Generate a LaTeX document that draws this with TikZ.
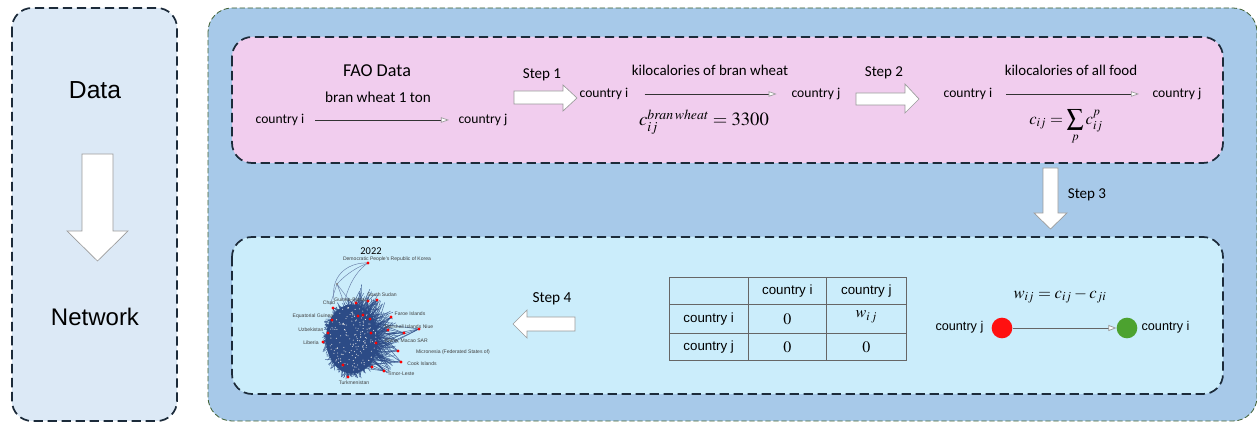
\documentclass[tikz,border=0pt]{standalone}
\usepackage{mathptmx}
\usepackage{fontspec}
\newfontfamily\calfont{Carlito}
\newfontfamily\arialfont{Liberation Sans}
\usetikzlibrary{arrows.meta}
\definecolor{leftfill}{HTML}{DCE9F6}
\definecolor{mainfill}{HTML}{A7C9E9}
\definecolor{pinkfill}{HTML}{F1CDEE}
\definecolor{cyanfill}{HTML}{CBEDFB}
\definecolor{dashcol}{HTML}{1C2B3A}
\definecolor{greendash}{HTML}{3E5E30}
\definecolor{netblue}{HTML}{2C4B86}
\definecolor{arrowgray}{HTML}{9A9A9A}
\definecolor{nodered}{HTML}{FF1010}
\definecolor{nodegreen}{HTML}{4CA22F}
\tikzset{
  panel/.style={draw=dashcol, line width=1.3pt, dash pattern=on 7pt off 3.5pt, rounded corners=15pt},
  mainpanel/.style={draw=greendash, line width=0.6pt, dash pattern=on 4pt off 2pt, rounded corners=18pt, fill=mainfill},
  blockarrow/.style={draw=arrowgray, line width=0.5pt, fill=white},
  cal/.style={font=\calfont\fontsize{#1}{#1}\selectfont, inner sep=1pt},
  ari/.style={font=\arialfont\fontsize{#1}{#1}\selectfont, inner sep=1pt},
  conn/.style={draw=black!80, line width=0.5pt, -{Triangle[length=6pt,width=4pt,fill=white,color=arrowgray]}},
  cell/.style={draw=black!60, line width=0.5pt, minimum width=59pt, minimum height=#1, inner sep=0pt, anchor=north west},
  netlab/.style={font=\arialfont\fontsize{3.8}{4}\selectfont, text=black!75, inner sep=0pt},
  rdot/.style={fill=red, draw=none, circle, inner sep=0pt, minimum size=2.4pt},
}
\begin{document}
\begin{tikzpicture}[x=0.75pt,y=-0.75pt]
\useasboundingbox (0,0) rectangle (1257,423);
% left panel
\draw[panel, fill=leftfill] (12,8) rectangle (177,421);
\node[ari=18.5] (data) at (95,90) {Data};
\node[ari=18] (network) at (95,317) {Network};
\draw[blockarrow] (82,154) -- (113,154) -- (113,231) -- (128,231) -- (97.5,261) -- (67,231) -- (82,231) -- cycle;
% main panel
\draw[mainpanel] (208,8) rectangle (1257,421);
\draw[panel, fill=pinkfill] (232,37) rectangle (1223,163);
\draw[panel, fill=cyanfill] (232,237) rectangle (1223,394);
% pink box content
\node[cal=13.6] (fao) at (377,71) {FAO Data};
\node[cal=11.4] (bran) at (378,97) {bran wheat 1 ton};
\node[cal=10.2] (ci1) at (280,120) {country i};
\node[cal=10.2] (cj1) at (483,120) {country j};
\draw[conn, shorten <=7pt, shorten >=6pt] (ci1) -- (cj1);
\node[cal=11.3] (s1) at (542,75) {Step 1};
\draw[blockarrow] (514,91) -- (563,91) -- (563,85) -- (577,98) -- (563,111) -- (563,104) -- (514,104) -- cycle;
\node[cal=11.2] (kbw) at (710,70) {kilocalories of bran wheat};
\node[cal=10.2] (ci2) at (604,94) {country i};
\node[cal=10.2] (cj2) at (816,94) {country j};
\draw[conn, shorten <=11pt, shorten >=10pt] (ci2) -- (cj2);
\node[font=\fontsize{14}{14}\selectfont, inner sep=0pt] (f1) at (704,122) {$c_{ij}^{\mathit{bran\,wheat}} = 3300$};
\node[cal=11.3] (s2) at (884,73) {Step 2};
\draw[blockarrow] (856,93) -- (905,93) -- (905,84) -- (919,99) -- (905,113) -- (905,105) -- (856,105) -- cycle;
\node[cal=11.2] (kaf) at (1071,70) {kilocalories of all food};
\node[cal=10.2] (ci3) at (968,94) {country i};
\node[cal=10.2] (cj3) at (1177,94) {country j};
\draw[conn, shorten <=9pt, shorten >=9pt] (ci3) -- (cj3);
\node[font=\fontsize{12.5}{12.5}\selectfont, inner sep=0pt] (f2) at (1066,127) {$\displaystyle c_{ij} = \sum_{p} c_{ij}^{p}$};
% step 3
\draw[blockarrow] (1043,168) -- (1058,168) -- (1058,213) -- (1067,213) -- (1050.5,229) -- (1034,213) -- (1043,213) -- cycle;
\node[cal=11.3] (s3) at (1087,195) {Step 3};
% table
\node[cell=20.25pt] (t11) at (669,277) {};
\node[cell=20.25pt, minimum width=58.5pt] (t12) at (748,277) {};
\node[cell=20.25pt, minimum width=60pt] (t13) at (826,277) {};
\node[cell=21.75pt] (t21) at (669,304) {};
\node[cell=21.75pt, minimum width=58.5pt] (t22) at (748,304) {};
\node[cell=21.75pt, minimum width=60pt] (t23) at (826,304) {};
\node[cell=20.25pt] (t31) at (669,333) {};
\node[cell=20.25pt, minimum width=58.5pt] (t32) at (748,333) {};
\node[cell=20.25pt, minimum width=60pt] (t33) at (826,333) {};
\node[ari=10] (h2) at (t12.center) {country i};
\node[ari=10] (h3) at (t13.center) {country j};
\node[ari=10] (r2) at (t21.center) {country i};
\node[ari=10] (r3) at (t31.center) {country j};
\node[font=\fontsize{12}{12}\selectfont] (v22) at (t22.center) {$0$};
\node[font=\fontsize{12}{12}\selectfont] (v23) at ([yshift=1.5pt]t23.center) {$w_{i\,j}$};
\node[font=\fontsize{12}{12}\selectfont] (v32) at (t32.center) {$0$};
\node[font=\fontsize{12}{12}\selectfont] (v33) at (t33.center) {$0$};
% w formula and two nodes
\node[font=\fontsize{12.5}{12.5}\selectfont] (wf) at (1060,296) {$w_{ij} = c_{ij} - c_{ji}$};
\node[circle, fill=nodered, minimum size=15.5pt, inner sep=0pt] (rn) at (1002,328) {};
\node[circle, fill=nodegreen, minimum size=15.5pt, inner sep=0pt] (gn) at (1127,328) {};
\node[ari=9.5, anchor=east] (lj) at (985,327) {country j};
\node[ari=9.5, anchor=west] (li) at (1140,327) {country i};
\draw[draw=black!60, line width=0.6pt, -{Triangle[length=6pt,width=4.5pt,fill=white,color=arrowgray]}] (rn) -- (gn);
% step 4
\node[cal=11.5] (s4) at (552,299) {Step 4};
\draw[blockarrow] (575,317) -- (527,317) -- (527,310) -- (513,324) -- (527,338) -- (527,331) -- (575,331) -- cycle;
% network picture
\begin{scope}
\pgfmathsetseed{11}
\coordinate (dprk) at (368,263);
\draw[netblue!70, line width=0.35pt] (334,300) .. controls (330,272) and (352,262) .. (dprk);
\draw[netblue!70, line width=0.35pt] (345,300) .. controls (350,280) and (360,268) .. (dprk);
\draw[netblue!70, line width=0.35pt] (337,284) .. controls (348,272) and (360,266) .. (dprk);
\draw[netblue!70, line width=0.35pt] (337,284) -- (330,305) (337,284) -- (345,305) (337,284) -- (352,304);
\fill[netblue] (352,339) ellipse [x radius=19.5pt, y radius=26pt];
\foreach \k in {1,...,240}{
  \pgfmathsetmacro{\aa}{rnd*360}\pgfmathsetmacro{\ra}{sqrt(rnd)}
  \pgfmathsetmacro{\ab}{rnd*360}\pgfmathsetmacro{\rb}{0.95+rnd*0.2}
  \draw[netblue, line width=0.4pt, opacity=0.85] ({352+24*\ra*cos(\aa)},{339+32*\ra*sin(\aa)}) -- ({352+27*\rb*cos(\ab)},{339+36*\rb*sin(\ab)});
}
\foreach \k in {1,...,150}{
  \pgfmathsetmacro{\aa}{rnd*360}\pgfmathsetmacro{\ra}{sqrt(rnd)}
  \pgfmathsetmacro{\ab}{-80+rnd*120}\pgfmathsetmacro{\rb}{1.05+rnd*0.5}
  \draw[netblue, line width=0.4pt, opacity=0.75] ({352+22*\ra*cos(\aa)},{339+30*\ra*sin(\aa)}) -- ({352+30*\rb*cos(\ab)},{339+36*\rb*sin(\ab)});
}
\foreach \p in {(356,303),(368,301),(377,300),(333,308),(358,316),(363,315),(370,319),(391,317),(332,320),(328,333),(323,342),(371,333),(388,330),(404,333),(419,329),(376,343),(398,351),(401,362),(343,365),(372,367),(384,371),(348,377)}{
  \foreach \m in {1,...,5}{
    \pgfmathsetmacro{\aa}{rnd*360}\pgfmathsetmacro{\ra}{sqrt(rnd)}
    \draw[netblue, line width=0.4pt, opacity=0.8] ({352+20*\ra*cos(\aa)},{339+28*\ra*sin(\aa)}) -- \p;
  }
}
\foreach \k in {1,...,170}{
  \pgfmathsetmacro{\aa}{rnd*360}\pgfmathsetmacro{\ra}{sqrt(rnd)}
  \fill[white!80!gray] ({352+24*\ra*cos(\aa)},{339+33*\ra*sin(\aa)}) circle[radius=0.4pt];
}
\foreach \p in {(356,303),(368,301),(377,300),(333,308),(358,316),(363,315),(370,319),(391,317),(332,320),(328,333),(323,342),(371,333),(388,330),(404,333),(419,329),(376,343),(398,351),(401,362),(343,365),(372,367),(384,371),(348,377)}{
  \node[rdot] at \p {};
}
\fill[gray] (337,284) circle[radius=0.9pt];
\node[rdot] at (dprk) {};
\end{scope}
\node[cal=7.8] (y2022) at (371,251) {2022};
\node[netlab] (n1) at (387,259) {Democratic People's Republic of Korea};
\node[netlab] (n2) at (382,294.5) {South Sudan};
\node[netlab] (n3) at (351,299.5) {Guinea-Bissau};
\node[netlab] (n4) at (329,303) {Chad};
\node[netlab] (n5) at (410,314) {Faroe Islands};
\node[netlab] (n6) at (313,316) {Equatorial Guinea};
\node[netlab] (n7) at (403,327) {Marshall Islands};
\node[netlab] (n8) at (428,327) {Niue};
\node[netlab] (n9) at (311,330) {Uzbekistan};
\node[netlab, anchor=east] (n10) at (428,341) {China, Macao SAR};
\node[netlab] (n11) at (311,343) {Liberia};
\node[netlab] (n12) at (453,352) {Micronesia (Federated States of)};
\node[netlab] (n13) at (422,364) {Cook Islands};
\node[netlab] (n14) at (401,374) {Timor-Leste};
\node[netlab] (n15) at (354,383) {Turkmenistan};
\end{tikzpicture}
\end{document}
